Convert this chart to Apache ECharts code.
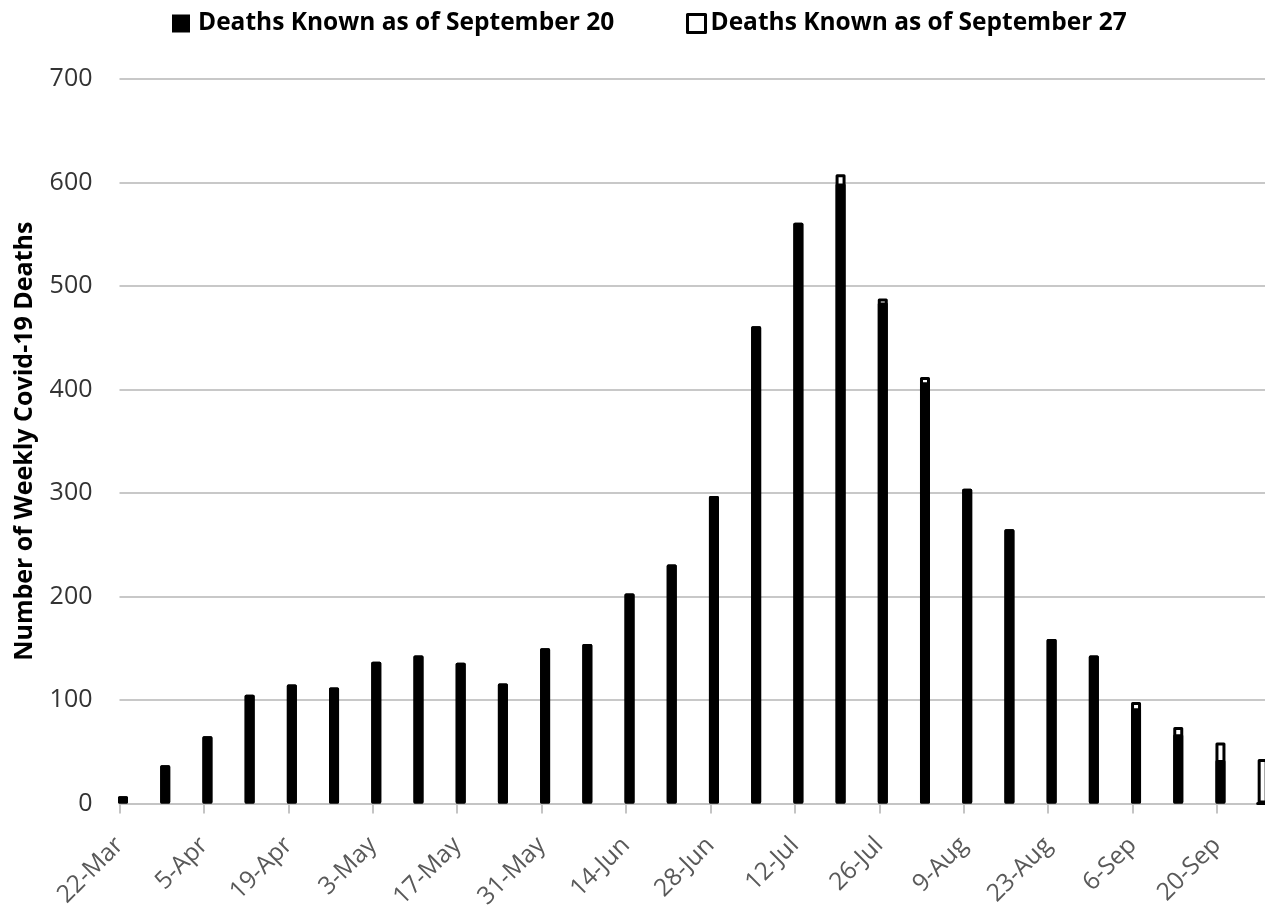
<!DOCTYPE html>
<html>
<head>
<meta charset="utf-8">
<script src="https://cdn.jsdelivr.net/npm/echarts@6/dist/echarts.min.js"></script>
<style>
html,body{margin:0;padding:0;background:#fff;}
#chart{width:1265px;height:907px;}
</style>
</head>
<body>
<div id="chart"></div>
<script>
const categories = ['22-Mar','29-Mar','5-Apr','12-Apr','19-Apr','26-Apr','3-May','10-May','17-May','24-May','31-May','7-Jun','14-Jun','21-Jun','28-Jun','5-Jul','12-Jul','19-Jul','26-Jul','2-Aug','9-Aug','16-Aug','23-Aug','30-Aug','6-Sep','13-Sep','20-Sep','27-Sep'];
const knownSep20 = [7,37,65,105,115,112,137,143,136,116,150,154,203,231,297,461,561,599,484,407,304,265,159,143,92,67,42,0];
const knownSep27 = [7,37,65,105,115,112,137,143,136,116,150,154,203,231,297,461,561,608,488,412,304,265,159,143,98,74,59,43];
const yMin = 0, yMax = 700, yStep = 100;
const seriesNames = ['Deaths Known as of September 20', 'Deaths Known as of September 27'];
const yTitle = 'Number of Weekly Covid-19 Deaths';

const FONT = 'Open Sans';
const chart = echarts.init(document.getElementById('chart'), null, {renderer: 'canvas'});
const step = 42.21;
const gLeft = 119.5, gTop = 79, gBottom = 103.5;

const legendText = {fontFamily: FONT, fontSize: 24.5, fontWeight: 'bold', color: '#000', padding: [0,0,0,3]};
chart.setOption({
  animation: false,
  textStyle: {fontFamily: FONT},
  legend: [
    {
      data: [{name: seriesNames[0], icon: 'rect', itemStyle: {color: '#000', borderColor: '#000', borderWidth: 0}}],
      left: 172, top: 11, padding: 0, itemWidth: 18, itemHeight: 18, textStyle: legendText
    },
    {
      data: [{name: seriesNames[1], icon: 'rect', itemStyle: {color: '#fff', borderColor: '#000', borderWidth: 3}}],
      left: 686, top: 11, padding: 0, itemWidth: 18, itemHeight: 18,
      textStyle: Object.assign({}, legendText, {padding: [0,0,0,0]})
    }
  ],
  grid: [
    {left: gLeft, top: gTop, bottom: gBottom, width: step * 27.6, outerBoundsMode: 'none', containLabel: false},
    {left: gLeft + 3.5, top: gTop, bottom: gBottom, width: step * (categories.length - 1), outerBoundsMode: 'none', containLabel: false}
  ],
  xAxis: [
    {
      gridIndex: 0, type: 'value', min: 0, max: 27.6, interval: 2,
      axisLine: {show: true, lineStyle: {color: '#c4c4c4', width: 2}},
      axisTick: {show: true, length: 10, lineStyle: {color: '#c4c4c4', width: 2}},
      splitLine: {show: false},
      axisLabel: {
        rotate: 45, margin: 38, fontFamily: FONT, fontSize: 24.5, color: '#595959',
        formatter: v => (Number.isInteger(v) && categories[v] !== undefined) ? categories[v] : ''
      }
    },
    {
      gridIndex: 1, type: 'category', data: categories, boundaryGap: false, show: false
    }
  ],
  yAxis: [
    {
      gridIndex: 0, type: 'value', min: yMin, max: yMax, interval: yStep,
      name: yTitle, nameLocation: 'middle', nameGap: 82,
      nameTextStyle: {fontFamily: FONT, fontSize: 25, fontWeight: 'bold', color: '#000'},
      axisLine: {show: false}, axisTick: {show: false},
      axisLabel: {margin: 27, fontFamily: FONT, fontSize: 25, color: '#333'},
      splitLine: {show: true, lineStyle: {color: '#c8c8c8', width: 2}}
    },
    {gridIndex: 1, type: 'value', min: yMin, max: yMax, show: false}
  ],
  series: [
    {
      name: seriesNames[1], type: 'bar', xAxisIndex: 1, yAxisIndex: 1,
      data: knownSep27, barWidth: 10, barGap: '-100%',
      itemStyle: {color: '#fff', borderColor: '#000', borderWidth: 3, borderJoin: 'round'}
    },
    {
      name: seriesNames[0], type: 'bar', xAxisIndex: 1, yAxisIndex: 1,
      data: knownSep20, barWidth: 10, barGap: '-100%',
      itemStyle: {color: '#000', borderColor: '#000', borderWidth: 3, borderJoin: 'round'}
    }
  ]
});
</script>
</body>
</html>
